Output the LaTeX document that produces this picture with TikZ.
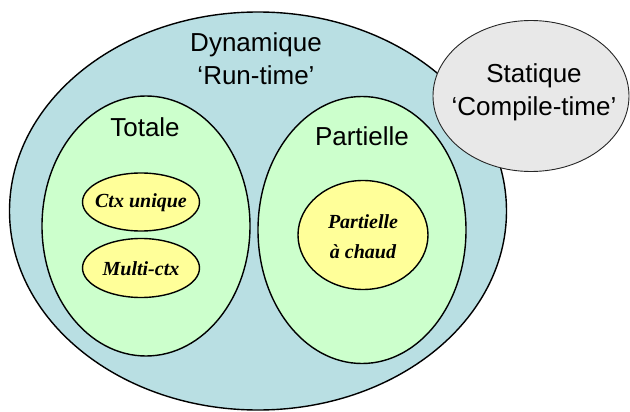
\documentclass[tikz,border=0pt]{standalone}
\usepackage{fontspec}
\setmainfont{Liberation Sans}
\newfontfamily\serifbi{Liberation Serif}
\usetikzlibrary{shapes.geometric}
\definecolor{dynblue}{RGB}{185,223,227}
\definecolor{greenfill}{RGB}{204,255,204}
\definecolor{yellowfill}{RGB}{255,255,153}
\definecolor{statgray}{RGB}{232,232,232}
\tikzset{
  blob/.style={ellipse, draw=black, line width=1.4pt, inner sep=0pt},
  sanslabel/.style={font=\fontsize{26}{33}\selectfont, align=center, inner sep=0pt},
  itlabel/.style={font=\serifbi\bfseries\itshape\fontsize{20}{30}\selectfont, align=center, inner sep=0pt}
}
\begin{document}
\begin{tikzpicture}[x=1pt,y=-1pt]
\useasboundingbox (0,0) rectangle (630,412);
% outer dynamic ellipse
\node[blob, fill=dynblue, minimum width=497pt, minimum height=398pt] (dyn) at (258,211) {};
% static ellipse
\node[ellipse, draw=black!85, line width=0.9pt, fill=statgray, minimum width=196pt, minimum height=151pt, inner sep=0pt] (stat) at (531,96) {};
% green ellipses
\node[blob, fill=greenfill, minimum width=208pt, minimum height=260pt] (tot) at (146,226) {};
\node[blob, fill=greenfill, minimum width=208pt, minimum height=267pt] (part) at (362,230) {};
% yellow ellipses
\node[blob, fill=yellowfill, minimum width=117pt, minimum height=58pt] (ctx) at (141,202) {};
\node[blob, fill=yellowfill, minimum width=117pt, minimum height=59pt] (multi) at (141,268) {};
\node[blob, fill=yellowfill, minimum width=130pt, minimum height=109pt] (chaud) at (363,235) {};
% labels
\node[sanslabel] (dynlbl) at (256,59) {Dynamique\\‘Run-time’};
\node[sanslabel] (statlbl) at (534,92) {Statique\\‘Compile-time’};
\node[sanslabel] (totlbl) at (145,127) {Totale};
\node[sanslabel] (partlbl) at (362,136) {Partielle};
\node[itlabel] (ctxlbl) at (141,203) {Ctx unique};
\node[itlabel] (multilbl) at (141,269) {Multi-ctx};
\node[itlabel] (chaudlbl) at (363,237) {Partielle\\à chaud};
\end{tikzpicture}
\end{document}
